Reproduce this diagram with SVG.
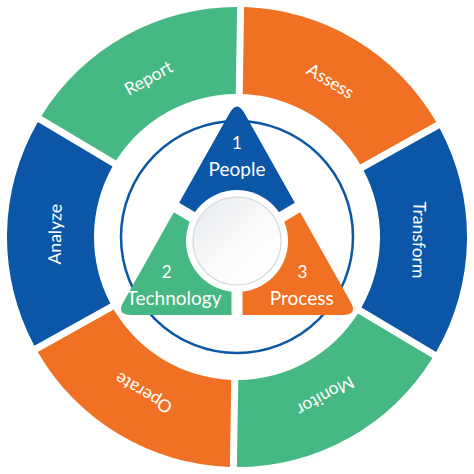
<svg xmlns="http://www.w3.org/2000/svg" width="474" height="474" viewBox="0 0 474 474">
<style>
.g{fill:#46b883}.o{fill:#f07123}.b{fill:#0b56a6}
.lbl{font-family:Lato,"Liberation Sans",sans-serif;font-size:17.5px;fill:#fff;text-anchor:middle}
.in{font-family:Lato,"Liberation Sans",sans-serif;font-size:19px;fill:#fff;text-anchor:middle}
.num{font-family:Lato,"Liberation Sans",sans-serif;font-size:17px;fill:#fff;text-anchor:middle}
</style>
<defs>
<path id="tri" d="M244.36,113.07 L350.64,301.93 Q358,315 343,315 L131,315 Q116,315 123.36,301.93 L229.64,113.07 Q237,100 244.36,113.07 Z"/>
<clipPath id="cpPeople"><polygon points="237,236.9 110.7,162.2 100,60 374,60 363.3,162.2"/></clipPath>
<clipPath id="cpTech"><polygon points="231.5,246.4 105.1,171.6 90,171.6 90,340 231.5,340"/></clipPath>
<clipPath id="cpProc"><polygon points="242.5,246.4 368.9,171.6 384,171.6 384,340 242.5,340"/></clipPath>
<linearGradient id="hub" x1="0.15" y1="0.1" x2="0.85" y2="0.9">
<stop offset="0" stop-color="#eaedf0"/><stop offset="0.5" stop-color="#f9fafb"/><stop offset="1" stop-color="#ffffff"/>
</linearGradient>
</defs>
<rect width="474" height="474" fill="#fff"/>
<g id="ring" transform="rotate(0.9 237 237)">
<g id="report"><path class="g" d="M233.5,7.03 A230,230 0 0 0 39.59,118.98 L114.95,162.49 A143,143 0 0 1 233.5,94.04 Z"/>
<text class="lbl" transform="translate(146,79.4) rotate(-30)" dy="0.35em">Report</text></g>
<g id="assess"><path class="o" d="M240.5,7.03 A230,230 0 0 1 434.41,118.98 L359.05,162.49 A143,143 0 0 0 240.5,94.04 Z"/>
<text class="lbl" transform="translate(328,79.4) rotate(30)" dy="0.35em">Assess</text></g>
<g id="transform"><path class="b" d="M437.91,125.04 A230,230 0 0 1 437.91,348.96 L362.56,305.45 A143,143 0 0 0 362.56,168.55 Z"/>
<text class="lbl" transform="translate(419,237) rotate(90)" dy="0.35em">Transform</text></g>
<g id="monitor"><path class="g" d="M434.41,355.02 A230,230 0 0 1 240.5,466.97 L240.5,379.96 A143,143 0 0 0 359.05,311.51 Z"/>
<text class="lbl" transform="translate(328,394.6) rotate(150)" dy="0.35em">Monitor</text></g>
<g id="operate"><path class="o" d="M233.5,466.97 A230,230 0 0 1 39.59,355.02 L114.95,311.51 A143,143 0 0 0 233.5,379.96 Z"/>
<text class="lbl" transform="translate(146,394.6) rotate(210)" dy="0.35em">Operate</text></g>
<g id="analyze"><path class="b" d="M36.09,348.96 A230,230 0 0 1 36.09,125.04 L111.45,168.55 A143,143 0 0 0 111.45,305.45 Z"/>
<text class="lbl" transform="translate(55,237) rotate(-90)" dy="0.35em">Analyze</text></g>
</g>
<circle id="orbit" cx="237" cy="237" r="116" fill="none" stroke="#0b56a6" stroke-width="2.5"/>
<g id="people"><use href="#tri" class="b" clip-path="url(#cpPeople)"/>
<text class="num" x="237" y="148.5">1</text><text class="in" x="237" y="176">People</text></g>
<g id="technology"><use href="#tri" class="g" clip-path="url(#cpTech)"/>
<text class="num" x="166.7" y="278.3">2</text><text class="in" x="174" y="305">Technology</text></g>
<g id="process"><use href="#tri" class="o" clip-path="url(#cpProc)"/>
<text class="num" x="302.5" y="278.3">3</text><text class="in" x="301.7" y="305">Process</text></g>
<g id="hub-node">
<circle cx="237" cy="241" r="51" fill="#fff"/>
<circle cx="237" cy="241" r="44" fill="url(#hub)" stroke="#d6d9dc" stroke-width="1.2"/>
</g>
</svg>
